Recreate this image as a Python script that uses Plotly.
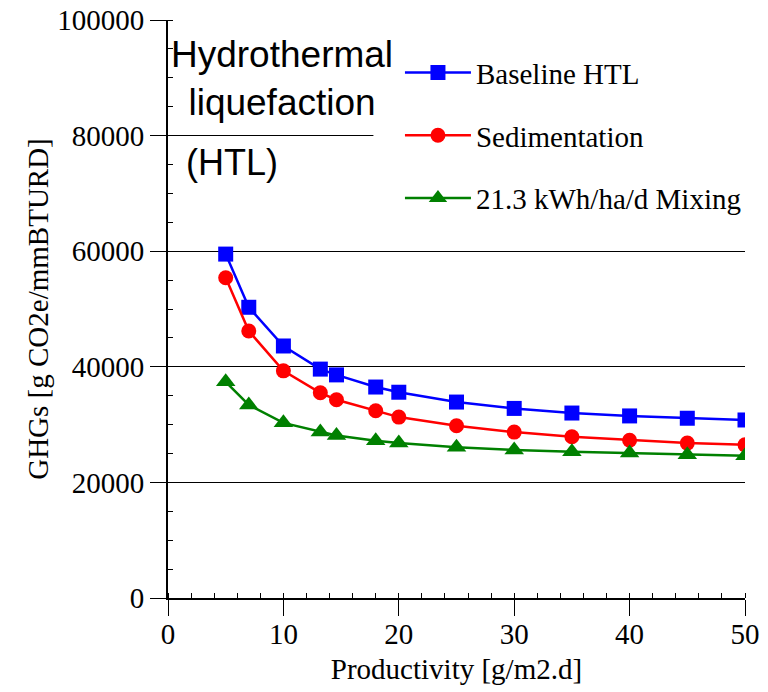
import plotly.graph_objects as go

productivity = [5, 7, 10, 13.2, 14.6, 18, 20, 25, 30, 35, 40, 45, 50]
baseline_htl = [59500, 50300, 43600, 39600, 38600, 36500, 35600, 33900, 32800, 32000, 31500, 31100, 30800]
sedimentation = [55400, 46200, 39300, 35500, 34300, 32400, 31300, 29800, 28700, 27900, 27300, 26800, 26500]
mixing = [37400, 33400, 30300, 28700, 28100, 27200, 26800, 26100, 25600, 25300, 25100, 24800, 24600]

series_names = ["Baseline HTL", "Sedimentation", "21.3 kWh/ha/d Mixing"]
series_values = [baseline_htl, sedimentation, mixing]
series_colors = ["#0000ff", "#ff0000", "#008000"]
series_symbols = ["square", "circle", "triangle-up"]

serif = "Liberation Serif, Times New Roman, serif"
sans = "Liberation Sans, Arial, sans-serif"

fig = go.Figure()
for i, (name, vals, col, sym) in enumerate(zip(series_names, series_values, series_colors, series_symbols)):
    fig.add_trace(go.Scatter(
        x=productivity, y=vals, name=name, mode="lines+markers",
        legendgroup=f"g{i}",
        line=dict(color=col, width=2.5),
        marker=dict(symbol=sym, size=15 if sym != "triangle-up" else 17, color=col),
    ))

fig.update_layout(
    width=768, height=692,
    margin=dict(l=168, r=23, t=20, b=94, autoexpand=False),
    paper_bgcolor="white", plot_bgcolor="white",
    font=dict(family=serif, size=29, color="black"),
    showlegend=True,
    legend=dict(
        x=0.402, y=0.953, xanchor="left", yanchor="top",
        bgcolor="rgba(0,0,0,0)", borderwidth=0,
        font=dict(family=serif, size=29, color="black"),
        tracegroupgap=22, itemwidth=66,
    ),
    xaxis=dict(
        range=[0, 50], tickvals=[0, 10, 20, 30, 40, 50],
        showgrid=False, zeroline=False, automargin=False,
        showline=True, linecolor="black", linewidth=2,
        ticks="outside", ticklen=16, tickwidth=1, tickcolor="black",
        ticklabelstandoff=-7, ticklabeloverflow="allow",
        minor=dict(dtick=2, ticks="inside", ticklen=5, tickcolor="black", showgrid=False),
        title=dict(text="Productivity [g/m2.d]", standoff=10, font=dict(family=serif, size=29)),
        tickfont=dict(family=serif, size=29),
    ),
    yaxis=dict(
        range=[0, 100000], tickvals=[0, 20000, 40000, 60000, 80000, 100000],
        ticktext=["0", "20000", "40000", "60000", "80000", "100000"],
        showgrid=True, gridcolor="black", gridwidth=1, zeroline=False, automargin=False,
        showline=True, linecolor="black", linewidth=2,
        ticks="outside", ticklen=16, tickwidth=1, tickcolor="black",
        ticklabeloverflow="allow",
        minor=dict(dtick=5000, ticks="inside", ticklen=5, tickcolor="black", showgrid=False),
        title=dict(text="GHGs [g CO2e/mmBTURD]", standoff=0, font=dict(family=serif, size=29)),
        tickfont=dict(family=serif, size=29),
    ),
)

# white panel behind the legend, hiding the grid line there
fig.add_shape(type="rect", xref="x", yref="y", x0=17.8, x1=50, y0=70000, y1=92000,
              fillcolor="white", line=dict(width=0), layer="between")

fig.add_annotation(
    x=9.88, y=98000, xref="x", yref="y", xanchor="center", yanchor="top",
    text="Hydrothermal<br>liquefaction", showarrow=False, align="center",
    font=dict(family=sans, size=37, color="black"),
)
fig.add_annotation(
    x=1.39, y=75400, xref="x", yref="y", xanchor="left", yanchor="middle",
    text="(HTL)", showarrow=False,
    font=dict(family=sans, size=36, color="black"),
)

fig.write_html("out.html", config={"displayModeBar": False},
               post_script="document.body.style.margin='0px';")
